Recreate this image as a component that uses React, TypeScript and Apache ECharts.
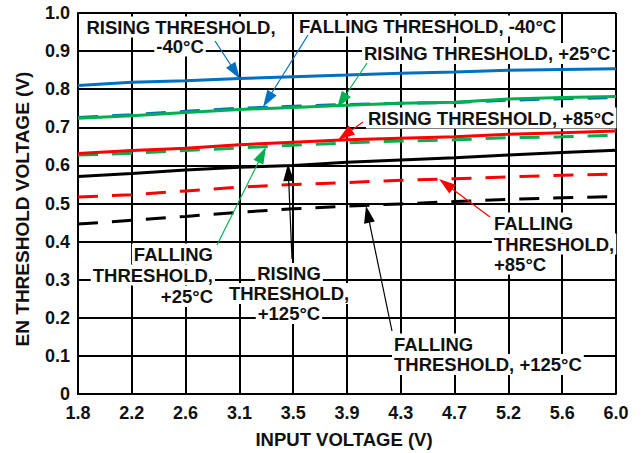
import React, { useEffect, useRef } from "react";
import * as echarts from "echarts";

const VIN_LABELS = ["1.8", "2.2", "2.6", "3.1", "3.5", "3.9", "4.3", "4.7", "5.2", "5.6", "6.0"];

const RISE_M40 = [0.810, 0.818, 0.822, 0.828, 0.833, 0.837, 0.842, 0.845, 0.850, 0.852, 0.854];
const FALL_M40 = [0.726, 0.733, 0.742, 0.750, 0.755, 0.760, 0.763, 0.765, 0.771, 0.775, 0.778];
const RISE_25 = [0.724, 0.730, 0.739, 0.747, 0.752, 0.758, 0.763, 0.766, 0.774, 0.778, 0.781];
const FALL_25 = [0.627, 0.632, 0.639, 0.646, 0.653, 0.659, 0.664, 0.667, 0.673, 0.675, 0.679];
const RISE_85 = [0.631, 0.639, 0.645, 0.654, 0.661, 0.667, 0.671, 0.675, 0.682, 0.686, 0.690];
const FALL_85 = [0.517, 0.523, 0.533, 0.543, 0.550, 0.555, 0.561, 0.565, 0.570, 0.574, 0.577];
const RISE_125 = [0.571, 0.579, 0.588, 0.595, 0.600, 0.608, 0.614, 0.620, 0.627, 0.634, 0.640];
const FALL_125 = [0.446, 0.456, 0.466, 0.477, 0.486, 0.493, 0.499, 0.505, 0.511, 0.515, 0.518];

const BLUE = "#0070C0";
const GREEN = "#00B050";
const RED = "#FF0000";
const BLACK = "#000000";

const FONT_FAMILY = "'Liberation Sans', Arial, Helvetica, sans-serif";
const ANNOT_FONT = `bold 18.5px ${FONT_FAMILY}`;

function label(text: string, x: number, y: number, align: string) {
  return {
    type: "text",
    z: 100,
    style: {
      text,
      x,
      y,
      font: ANNOT_FONT,
      fill: "#111",
      align,
      textAlign: align,
      verticalAlign: "middle",
      textVerticalAlign: "middle",
      backgroundColor: "#fff",
      padding: [1, 2, 1, 2],
    },
  };
}

function arrow(x1: number, y1: number, x2: number, y2: number, color: string) {
  const dx = x2 - x1;
  const dy = y2 - y1;
  const L = Math.hypot(dx, dy);
  const ux = dx / L;
  const uy = dy / L;
  const hl = 17;
  const hw = 5.5;
  const bx = x2 - ux * hl;
  const by = y2 - uy * hl;
  const px = -uy;
  const py = ux;
  return [
    {
      type: "line",
      z: 101,
      shape: { x1, y1, x2: bx + ux * 2, y2: by + uy * 2 },
      style: { stroke: color, lineWidth: 1.2 },
    },
    {
      type: "polygon",
      z: 101,
      shape: {
        points: [
          [x2, y2],
          [bx + px * hw, by + py * hw],
          [bx - px * hw, by - py * hw],
        ],
      },
      style: { fill: color },
    },
  ];
}

function lineSeries(name: string, data: number[], color: string, dashed: boolean) {
  return {
    name,
    type: "line",
    data,
    symbol: "none",
    smooth: false,
    z: dashed ? 2 : 3,
    lineStyle: {
      color,
      width: 3,
      type: dashed ? [20, 14] : "solid",
    },
  };
}

export default function App() {
  const ref = useRef<HTMLDivElement>(null);

  useEffect(() => {
    document.body.style.margin = "0";
    if (!ref.current) return;
    const chart = echarts.init(ref.current, undefined, { renderer: "svg" });

    const graphics: any[] = [
      // axis titles
      {
        type: "text",
        z: 100,
        style: {
          text: "INPUT VOLTAGE (V)",
          x: 344,
          y: 439,
          font: `bold 18.5px ${FONT_FAMILY}`,
          fill: "#111",
          align: "center",
          textAlign: "center",
          verticalAlign: "middle",
          textVerticalAlign: "middle",
        },
      },
      {
        type: "text",
        z: 100,
        x: 22.5,
        y: 209,
        rotation: Math.PI / 2,
        style: {
          text: "EN THRESHOLD VOLTAGE (V)",
          x: 0,
          y: 0,
          font: `bold 19px ${FONT_FAMILY}`,
          fill: "#111",
          align: "center",
          textAlign: "center",
          verticalAlign: "middle",
          textVerticalAlign: "middle",
        },
      },
      // annotations
      label("RISING THRESHOLD,", 181, 27, "center"),
      label("-40°C", 180, 46, "center"),
      label("FALLING THRESHOLD, -40°C", 297, 26, "left"),
      label("RISING THRESHOLD, +25°C", 362, 53.5, "left"),
      label("RISING THRESHOLD, +85°C", 366, 118, "left"),
      label("FALLING", 215, 254, "right"),
      label("THRESHOLD,", 215, 275, "right"),
      label("+25°C", 215, 296.5, "right"),
      label("RISING", 289, 273.5, "center"),
      label("THRESHOLD,", 289, 293.5, "center"),
      label("+125°C", 289, 313.5, "center"),
      label("FALLING", 492, 223, "left"),
      label("THRESHOLD,", 492, 244, "left"),
      label("+85°C", 492, 264, "left"),
      label("FALLING", 392, 344, "left"),
      label("THRESHOLD, +125°C", 392, 364.5, "left"),
      ...arrow(215, 41, 240, 79, BLUE),
      ...arrow(308, 35, 263, 107, BLUE),
      ...arrow(367, 63, 337, 108, GREEN),
      ...arrow(363, 122, 338, 140, RED),
      ...arrow(217, 245, 266, 147, GREEN),
      ...arrow(292, 259, 288, 164, BLACK),
      ...arrow(490, 217, 439, 179, RED),
      ...arrow(392, 331, 366, 206, BLACK),
    ];

    chart.setOption({
      animation: false,
      backgroundColor: "#fff",
      grid: {
        left: 78,
        right: 28,
        top: 13,
        bottom: 59,
        containLabel: false,
        outerBoundsMode: "none",
      },
      xAxis: {
        type: "category",
        data: VIN_LABELS,
        boundaryGap: false,
        axisLine: { show: true, lineStyle: { color: BLACK, width: 2 } },
        axisTick: { show: false },
        axisLabel: {
          interval: 0,
          margin: 10,
          color: "#111",
          fontSize: 18,
          fontWeight: "bold",
          fontFamily: FONT_FAMILY,
        },
        splitLine: { show: true, interval: 0, lineStyle: { color: BLACK, width: 2 } },
      },
      yAxis: {
        type: "value",
        min: 0,
        max: 1,
        interval: 0.1,
        axisLine: { show: true, lineStyle: { color: BLACK, width: 2 } },
        axisTick: { show: false },
        axisLabel: {
          margin: 8,
          color: "#111",
          fontSize: 18,
          fontWeight: "bold",
          fontFamily: FONT_FAMILY,
          formatter: (v: number) => (v === 0 ? "0" : v.toFixed(1)),
        },
        splitLine: { show: true, lineStyle: { color: BLACK, width: 2 } },
      },
      series: [
        lineSeries("Falling +125°C", FALL_125, BLACK, true),
        lineSeries("Falling +85°C", FALL_85, RED, true),
        lineSeries("Falling +25°C", FALL_25, GREEN, true),
        lineSeries("Falling -40°C", FALL_M40, BLUE, true),
        lineSeries("Rising +125°C", RISE_125, BLACK, false),
        lineSeries("Rising +85°C", RISE_85, RED, false),
        lineSeries("Rising +25°C", RISE_25, GREEN, false),
        lineSeries("Rising -40°C", RISE_M40, BLUE, false),
      ],
      graphic: { elements: graphics },
    });

    return () => {
      chart.dispose();
    };
  }, []);

  return <div ref={ref} style={{ width: 644, height: 453 }} />;
}
